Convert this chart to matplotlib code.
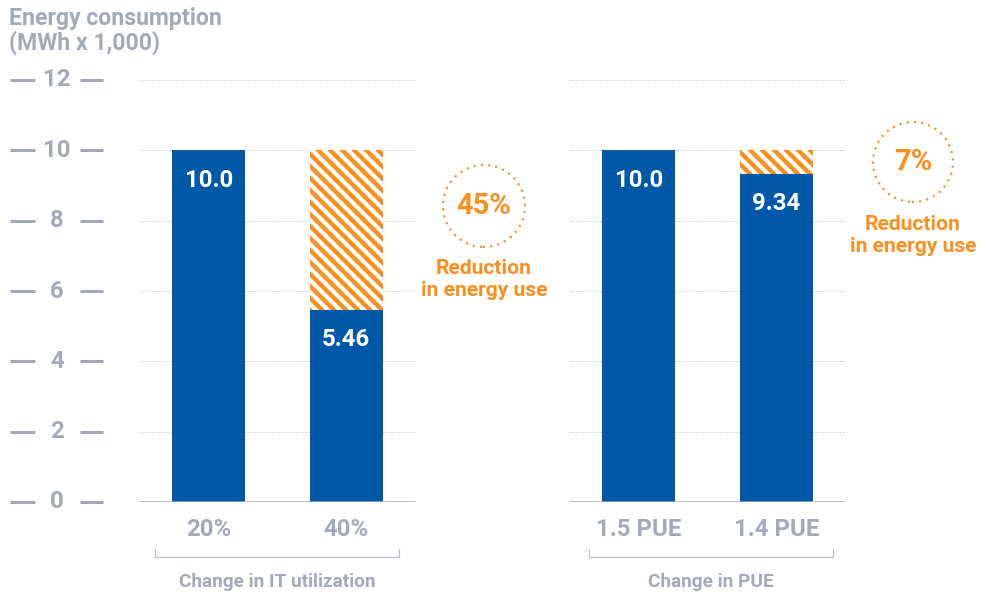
import matplotlib
matplotlib.use('Agg')
import matplotlib.pyplot as plt
import matplotlib.transforms as mtransforms
from matplotlib.patches import Ellipse

# data
it_labels = ["20%", "40%"]
it_values = [10.0, 5.46]
pue_labels = ["1.5 PUE", "1.4 PUE"]
pue_values = [10.0, 9.34]
baseline = 10.0
reductions = ["45%", "7%"]
group_names = ["Change in IT utilization", "Change in PUE"]
yticks = [0, 2, 4, 6, 8, 10, 12]

BLUE = '#0059A8'
ORANGE = '#F7901E'
GRAY = '#A3A9B8'
GRID = '#AEB3BE'

plt.rcParams['font.family'] = ['Roboto', 'DejaVu Sans']
plt.rcParams['hatch.linewidth'] = 4.4

W, H = 985, 595
fig = plt.figure(figsize=(W / 72, H / 72), dpi=72)

def fx(px):
    return px / W

def fy(py):
    return 1 - py / H

ax_l = fig.add_axes([fx(140), fy(502), fx(275), fy(80) - fy(502)])
ax_r = fig.add_axes([fx(570), fy(502), fx(275), fy(80) - fy(502)])

def draw_panel(ax, labels, values, gname, bracket):
    x = range(len(values))
    ax.set_xlim(-0.5, 1.5)
    ax.set_ylim(0, 12)
    for s in ax.spines.values():
        s.set_visible(False)
    ax.set_xticks([])
    ax.set_yticks([])
    for t in yticks[1:]:
        ax.axhline(t, color=GRID, lw=1.0, ls=(0, (1, 2)), zorder=0)
    ax.axhline(0, color=GRAY, lw=2.5, zorder=3)
    ax.bar(x, values, width=0.53, color=BLUE, zorder=2)
    ax.bar(1, baseline - values[1], bottom=values[1], width=0.53,
           facecolor='white', edgecolor=ORANGE, hatch='\\\\', lw=0, zorder=2)
    for xi, v in zip(x, values):
        ax.annotate(f"{v:.1f}" if v == baseline else f"{v:.2f}", (xi, v),
                    xytext=(0, -30), textcoords='offset points',
                    ha='center', va='center', color='white',
                    fontsize=24, fontweight='bold')
    trans = mtransforms.blended_transform_factory(ax.transData, fig.transFigure)
    for xi, lab in zip(x, labels):
        ax.text(xi, fy(530), lab, transform=trans, ha='center', va='center',
                color=GRAY, fontsize=24, fontweight='bold')
    x0, x1 = bracket
    fig.add_artist(plt.Line2D([fx(x0), fx(x0), fx(x1), fx(x1)],
                              [fy(549), fy(557), fy(557), fy(549)],
                              color='#B8BDC8', lw=1.2))
    fig.text(fx((x0 + x1) / 2), fy(582), gname, ha='center', va='center',
             color=GRAY, fontsize=19, fontweight='bold')

draw_panel(ax_l, it_labels, it_values, group_names[0], (155, 399))
draw_panel(ax_r, pue_labels, pue_values, group_names[1], (589, 833))

# y tick labels with dashes
trans = mtransforms.blended_transform_factory(fig.transFigure, ax_l.transData)
for t in yticks:
    ax_l.text(fx(57), t, str(t), transform=trans, ha='center', va='center',
              color=GRAY, fontsize=24, fontweight='bold', clip_on=False)
    for a, b in [(10, 35), (80, 103)]:
        ax_l.plot([fx(a), fx(b)], [t, t], transform=trans, color=GRAY,
                  lw=3, clip_on=False, solid_capstyle='butt')

fig.text(fx(9), fy(7), "Energy consumption\n(MWh x 1,000)", ha='left', va='top',
         color=GRAY, fontsize=23, fontweight='bold', linespacing=1.05)

# reduction callouts
for (cx, cy, r, ty), pct in zip([(484, 206, 41, 268), (913, 162, 40, 224)], reductions):
    fig.add_artist(Ellipse((fx(cx), fy(cy)), 2 * r / W, 2 * r / H,
                           transform=fig.transFigure, fill=False,
                           edgecolor=ORANGE, lw=2.5, ls=(0, (0.01, 2.9)),
                           capstyle='round'))
    fig.text(fx(cx), fy(cy), pct, ha='center', va='center', color=ORANGE,
             fontsize=29, fontweight='bold')
    fig.text(fx(cx), fy(ty + 12), "Reduction\nin energy use", ha='center',
             va='center', color=ORANGE, fontsize=21, fontweight='bold',
             linespacing=1.2)

fig.savefig('out.png', dpi=72)
